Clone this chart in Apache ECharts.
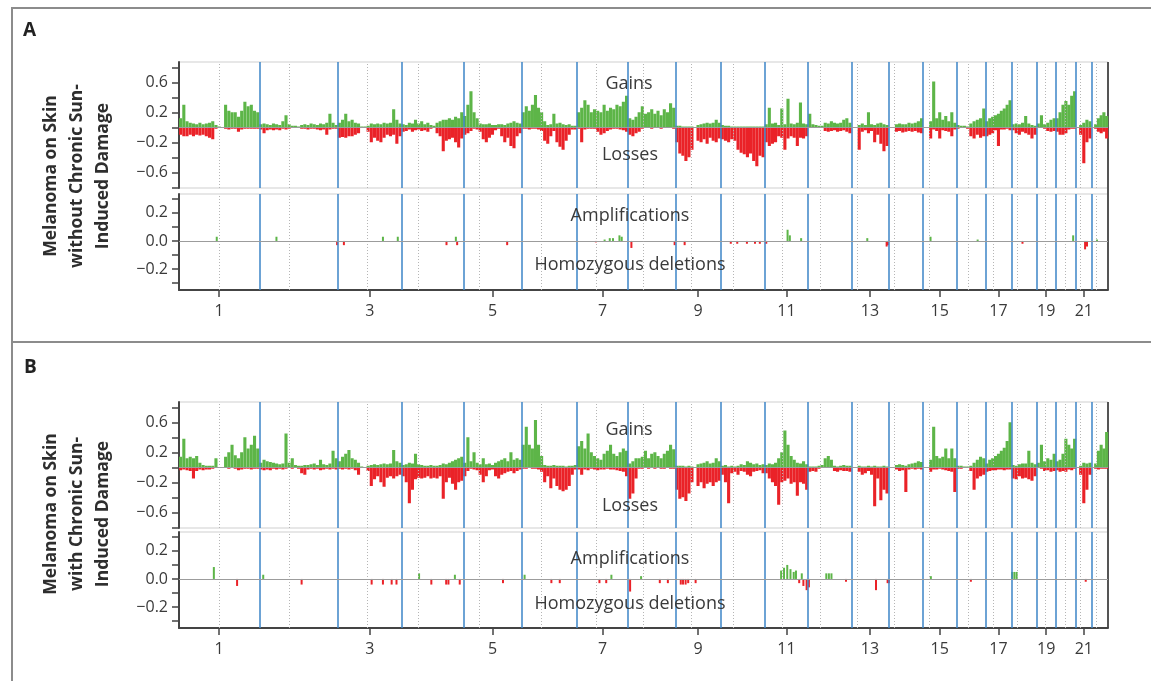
<!DOCTYPE html>
<html>
<head>
<meta charset="utf-8">
<script src="https://cdn.jsdelivr.net/npm/echarts@6/dist/echarts.min.js"></script>
<style>
  html, body { margin: 0; padding: 0; background: #fff; }
  #chart { width: 1151px; height: 681px; }
</style>
</head>
<body>
<div id="chart"></div>
<script>
// chromosome sizes and centromere positions, Mb
const chromLengths = [249, 243, 198, 191, 181, 171, 159, 146, 141, 136, 135, 134, 115, 107, 103, 90, 81, 78, 59, 63, 48, 51]
const centromeres = [125, 93, 91, 50, 48, 61, 60, 46, 49, 40, 54, 36, 18, 18, 19, 37, 24, 17, 27, 28, 13, 15]
const tickChroms = [1, 3, 5, 7, 9, 11, 13, 15, 17, 19, 21]

// panel A: melanoma without chronic sun-induced damage (one list per chromosome)
const gainsA = [
  [0.12, 0.3, 0.08, 0.06, 0.05, 0.04, 0.06, 0.04, 0.05, 0.06, 0.08, 0.03, 0.01, 0, 0.3, 0.22, 0.2, 0.2, 0.14, 0.22, 0.34, 0.28, 0.3, 0.22, 0.2],
  [0.04, 0.05, 0.04, 0.03, 0.05, 0.04, 0.03, 0.08, 0.16, 0.04, 0.02, 0.02, 0.01, 0.03, 0.04, 0.03, 0.05, 0.04, 0.03, 0.05, 0.04, 0.06, 0.18, 0.06, 0.03],
  [0.06, 0.1, 0.18, 0.08, 0.1, 0.06, 0.05, 0.01, 0.01, 0.02, 0.05, 0.04, 0.05, 0.04, 0.06, 0.05, 0.06, 0.24, 0.1, 0.05],
  [0.04, 0.03, 0.06, 0.05, 0.1, 0.05, 0.08, 0.04, 0.06, 0.03, 0.02, 0.06, 0.08, 0.1, 0.1, 0.12, 0.1, 0.14, 0.12, 0.2],
  [0.15, 0.3, 0.48, 0.2, 0.12, 0.05, 0.04, 0.04, 0.05, 0.03, 0.03, 0.04, 0.04, 0.03, 0.05, 0.06, 0.08, 0.06, 0.05],
  [0.2, 0.28, 0.22, 0.3, 0.43, 0.26, 0.2, 0.08, 0.03, 0.04, 0.18, 0.05, 0.06, 0.04, 0.03, 0.04, 0.02, 0.02],
  [0.2, 0.26, 0.36, 0.3, 0.2, 0.24, 0.22, 0.2, 0.3, 0.22, 0.26, 0.24, 0.3, 0.28, 0.34, 0.42],
  [0.12, 0.1, 0.14, 0.2, 0.28, 0.18, 0.2, 0.24, 0.18, 0.22, 0.16, 0.24, 0.2, 0.32, 0.26],
  [0.02, 0.02, 0.01, 0.01, 0.01, 0.01, 0, 0.03, 0.04, 0.05, 0.06, 0.05, 0.06, 0.1, 0.06],
  [0.03, 0.02, 0.02, 0.01, 0.01, 0.01, 0.01, 0.01, 0.01, 0.01, 0.01, 0.01, 0.01, 0.01],
  [0.04, 0.26, 0.05, 0.06, 0.03, 0.25, 0.04, 0.38, 0.05, 0.04, 0.06, 0.33, 0.05, 0.04],
  [0.18, 0.04, 0.03, 0.02, 0.02, 0.06, 0.05, 0.08, 0.06, 0.05, 0.06, 0.1, 0.12, 0.06],
  [0, 0, 0.03, 0.05, 0.03, 0.2, 0.04, 0.03, 0.05, 0.06, 0.04, 0.03],
  [0, 0, 0.04, 0.05, 0.04, 0.04, 0.06, 0.05, 0.06, 0.08, 0.12],
  [0, 0, 0.08, 0.61, 0.12, 0.2, 0.1, 0.15, 0.08, 0.2, 0.06],
  [0.03, 0.02, 0.02, 0.01, 0.05, 0.08, 0.1, 0.12, 0.25],
  [0.08, 0.12, 0.14, 0.16, 0.18, 0.22, 0.25, 0.3, 0.36],
  [0.04, 0.05, 0.04, 0.06, 0.15, 0.05, 0.03, 0.02],
  [0.05, 0.16, 0.04, 0.06, 0.1, 0.12],
  [0.12, 0.2, 0.3, 0.35, 0.3, 0.42, 0.48],
  [0, 0.03, 0.06, 0.1, 0.08],
  [0, 0.04, 0.12, 0.16, 0.2, 0.15]
]
const lossesA = [
  [-0.1, -0.12, -0.12, -0.1, -0.12, -0.1, -0.11, -0.1, -0.12, -0.14, -0.16, -0.02, 0, 0, -0.02, -0.03, -0.02, -0.02, -0.06, -0.03, -0.02, -0.02, -0.02, -0.02, -0.02],
  [-0.03, -0.08, -0.04, -0.03, -0.04, -0.03, -0.04, -0.02, -0.03, -0.02, -0.01, -0.01, 0, -0.02, -0.02, -0.03, -0.02, -0.02, -0.03, -0.04, -0.03, -0.1, -0.03, -0.02, -0.02],
  [-0.14, -0.13, -0.14, -0.12, -0.12, -0.1, -0.08, 0, 0, -0.06, -0.2, -0.14, -0.18, -0.2, -0.14, -0.1, -0.12, -0.1, -0.22, -0.12],
  [-0.06, -0.05, -0.03, -0.06, -0.04, -0.03, -0.05, -0.04, -0.06, -0.02, -0.01, -0.08, -0.12, -0.32, -0.18, -0.16, -0.14, -0.2, -0.27, -0.15],
  [-0.1, -0.08, -0.05, -0.02, -0.03, -0.06, -0.16, -0.2, -0.14, -0.1, -0.04, -0.02, -0.12, -0.2, -0.14, -0.25, -0.28, -0.12, -0.08],
  [-0.02, -0.02, -0.03, -0.02, -0.02, -0.03, -0.05, -0.18, -0.22, -0.12, -0.05, -0.2, -0.26, -0.3, -0.18, -0.1, -0.03, -0.03],
  [-0.02, -0.2, -0.03, -0.02, -0.02, -0.02, -0.06, -0.1, -0.08, -0.05, -0.03, -0.02, -0.02, -0.03, -0.04, -0.06],
  [-0.1, -0.12, -0.08, -0.06, -0.02, -0.01, -0.01, -0.02, -0.01, -0.01, -0.02, -0.01, -0.01, -0.01, -0.02],
  [-0.2, -0.35, -0.38, -0.45, -0.4, -0.3, 0, -0.18, -0.2, -0.16, -0.22, -0.14, -0.18, -0.2, -0.15],
  [-0.16, -0.18, -0.2, -0.16, -0.18, -0.3, -0.34, -0.36, -0.4, -0.35, -0.45, -0.52, -0.38, -0.4],
  [-0.2, -0.25, -0.22, -0.2, -0.12, -0.14, -0.3, -0.15, -0.12, -0.14, -0.25, -0.14, -0.15, -0.12],
  [-0.01, -0.01, 0, 0, -0.01, -0.05, -0.06, -0.05, -0.04, -0.06, -0.05, -0.04, -0.06, -0.08],
  [0, 0, -0.3, -0.06, -0.04, -0.08, -0.05, -0.2, -0.1, -0.22, -0.32, -0.25],
  [0, 0, -0.06, -0.05, -0.07, -0.06, -0.05, -0.06, -0.05, -0.07, -0.08],
  [0, 0, -0.15, -0.03, -0.05, -0.15, -0.04, -0.05, -0.06, -0.12, -0.03],
  [-0.02, -0.01, -0.01, -0.02, -0.12, -0.15, -0.1, -0.14, -0.12],
  [-0.12, -0.1, -0.08, -0.04, -0.25, -0.03, -0.03, -0.02, -0.04],
  [-0.04, -0.08, -0.1, -0.06, -0.08, -0.1, -0.15, -0.1],
  [0, -0.01, -0.02, -0.05, -0.06, -0.05],
  [-0.06, -0.1, -0.1, -0.08, -0.03, -0.02, -0.02],
  [0, -0.1, -0.48, -0.2, -0.15],
  [0, -0.02, -0.06, -0.08, -0.06, -0.15]
]
// [genome position Mb, fraction]
const ampA = [[117, 0.03], [302, 0.03], [632, 0.03], [678, 0.03], [858, 0.03], [1319, 0.01], [1335, 0.02], [1345, 0.02], [1365, 0.04], [1372, 0.03], [1886, 0.08], [1893, 0.04], [1928, 0.02], [2133, 0.02], [2329, 0.03], [2475, 0.01], [2771, 0.04], [2845, 0.01]]
const delA = [[490, -0.03], [511, -0.03], [829, -0.03], [862, -0.03], [1017, -0.03], [1292, -0.01], [1402, -0.05], [1536, -0.03], [1567, -0.03], [1710, -0.02], [1730, -0.02], [1760, -0.02], [1785, -0.02], [1800, -0.02], [1820, -0.02], [2193, -0.04], [2197, -0.03], [2614, -0.02], [2808, -0.06], [2814, -0.04]]

// panel B: melanoma with chronic sun-induced damage
const gainsB = [
  [0.14, 0.38, 0.12, 0.14, 0.12, 0.15, 0.06, 0.03, 0.02, 0.02, 0.02, 0.12, 0, 0, 0.14, 0.2, 0.3, 0.16, 0.12, 0.2, 0.4, 0.25, 0.3, 0.42, 0.25],
  [0.06, 0.1, 0.08, 0.07, 0.06, 0.05, 0.04, 0.05, 0.45, 0.06, 0.12, 0.03, 0.02, 0.02, 0.03, 0.03, 0.04, 0.05, 0.03, 0.1, 0.04, 0.03, 0.05, 0.22, 0.12],
  [0.08, 0.14, 0.18, 0.23, 0.12, 0.1, 0.06, 0.01, 0, 0.02, 0.03, 0.04, 0.03, 0.04, 0.05, 0.04, 0.05, 0.23, 0.08, 0.06],
  [0.03, 0.04, 0.06, 0.05, 0.18, 0.04, 0.03, 0.02, 0.02, 0.03, 0.02, 0.02, 0.03, 0.05, 0.04, 0.06, 0.08, 0.1, 0.12, 0.14],
  [0.06, 0.4, 0.08, 0.2, 0.06, 0.04, 0.12, 0.04, 0.05, 0.03, 0.06, 0.08, 0.1, 0.12, 0.08, 0.2, 0.1, 0.12, 0.1],
  [0.3, 0.54, 0.3, 0.25, 0.63, 0.3, 0.15, 0.03, 0.02, 0.02, 0.03, 0.02, 0.02, 0.02, 0.01, 0.02, 0.02, 0.03],
  [0.28, 0.35, 0.25, 0.45, 0.2, 0.15, 0.12, 0.1, 0.18, 0.22, 0.3, 0.18, 0.15, 0.2, 0.25, 0.22],
  [0.05, 0.08, 0.12, 0.12, 0.14, 0.22, 0.12, 0.18, 0.2, 0.15, 0.12, 0.18, 0.22, 0.3, 0.24],
  [0.02, 0.02, 0.02, 0.01, 0.02, 0.01, 0, 0.04, 0.05, 0.06, 0.08, 0.05, 0.06, 0.12, 0.08],
  [0.02, 0.03, 0.01, 0.02, 0.01, 0.02, 0.04, 0.03, 0.08, 0.06, 0.04, 0.05, 0.03, 0.04],
  [0.03, 0.05, 0.04, 0.06, 0.12, 0.2, 0.49, 0.3, 0.15, 0.1, 0.06, 0.05, 0.08, 0.04],
  [0.01, 0.01, 0.01, 0.02, 0.03, 0.12, 0.15, 0.1, 0.02, 0.01, 0.02, 0.03, 0.02, 0.02],
  [0, 0, 0.02, 0.01, 0.01, 0.02, 0.01, 0.02, 0.01, 0.01, 0.02, 0.01],
  [0, 0, 0.03, 0.04, 0.03, 0.02, 0.04, 0.05, 0.06, 0.08, 0.07],
  [0, 0, 0.1, 0.54, 0.15, 0.12, 0.14, 0.25, 0.12, 0.25, 0.12],
  [0.02, 0.02, 0.01, 0.01, 0.02, 0.06, 0.1, 0.14, 0.12],
  [0.05, 0.1, 0.12, 0.15, 0.18, 0.22, 0.26, 0.35, 0.6],
  [0.03, 0.02, 0.04, 0.05, 0.05, 0.22, 0.06, 0.04],
  [0.06, 0.3, 0.08, 0.12, 0.1, 0.18],
  [0.08, 0.1, 0.18, 0.38, 0.3, 0.25, 0.38],
  [0, 0.02, 0.06, 0.05, 0.06],
  [0, 0.05, 0.22, 0.3, 0.25, 0.47]
]
const lossesB = [
  [-0.04, -0.03, -0.04, -0.05, -0.15, -0.05, -0.03, -0.04, -0.03, -0.03, -0.02, -0.01, 0, 0, -0.01, -0.02, -0.01, -0.02, -0.04, -0.03, -0.02, -0.02, -0.03, -0.02, -0.02],
  [-0.03, -0.04, -0.03, -0.04, -0.02, -0.03, -0.02, -0.03, -0.02, -0.01, -0.02, -0.01, -0.02, -0.08, -0.1, -0.03, -0.02, -0.03, -0.02, -0.04, -0.03, -0.02, -0.03, -0.02, -0.03],
  [-0.02, -0.03, -0.02, -0.03, -0.02, -0.04, -0.1, 0, 0, -0.05, -0.25, -0.16, -0.12, -0.2, -0.26, -0.14, -0.12, -0.15, -0.12, -0.1],
  [-0.12, -0.2, -0.48, -0.3, -0.16, -0.14, -0.15, -0.14, -0.12, -0.15, -0.14, -0.15, -0.12, -0.42, -0.2, -0.14, -0.22, -0.3, -0.2, -0.18],
  [-0.12, -0.05, -0.02, -0.03, -0.04, -0.1, -0.2, -0.12, -0.04, -0.03, -0.12, -0.15, -0.1, -0.08, -0.06, -0.05, -0.08, -0.05, -0.03],
  [-0.02, -0.02, -0.01, -0.02, -0.02, -0.03, -0.06, -0.2, -0.12, -0.28, -0.15, -0.25, -0.3, -0.32, -0.3, -0.25, -0.1, -0.03],
  [-0.03, -0.1, -0.03, -0.04, -0.02, -0.03, -0.04, -0.03, -0.03, -0.02, -0.03, -0.03, -0.04, -0.05, -0.06, -0.12],
  [-0.42, -0.35, -0.15, -0.02, -0.02, -0.01, -0.02, -0.01, -0.02, -0.01, -0.02, -0.02, -0.01, -0.02, -0.02],
  [-0.3, -0.42, -0.4, -0.45, -0.35, -0.2, 0, -0.25, -0.2, -0.28, -0.22, -0.2, -0.25, -0.2, -0.18],
  [-0.1, -0.2, -0.48, -0.08, -0.06, -0.1, -0.05, -0.06, -0.1, -0.12, -0.06, -0.05, -0.04, -0.08],
  [-0.08, -0.15, -0.2, -0.25, -0.5, -0.2, -0.18, -0.15, -0.22, -0.2, -0.38, -0.2, -0.22, -0.3],
  [-0.06, -0.05, -0.06, -0.02, -0.01, -0.01, -0.01, -0.01, -0.05, -0.06, -0.04, -0.05, -0.05, -0.06],
  [0, 0, -0.06, -0.1, -0.08, -0.05, -0.1, -0.52, -0.15, -0.44, -0.3, -0.35],
  [0, 0, -0.03, -0.05, -0.04, -0.33, -0.03, -0.02, -0.03, -0.02, -0.03],
  [0, 0, -0.06, -0.03, -0.03, -0.02, -0.03, -0.04, -0.05, -0.06, -0.33],
  [-0.02, -0.02, -0.01, -0.01, -0.05, -0.3, -0.15, -0.12, -0.1],
  [-0.06, -0.05, -0.04, -0.04, -0.03, -0.03, -0.04, -0.03, -0.03],
  [-0.15, -0.16, -0.12, -0.15, -0.14, -0.16, -0.18, -0.12],
  [0, -0.02, -0.05, -0.04, -0.06, -0.05],
  [-0.04, -0.06, -0.05, -0.06, -0.03, -0.04, -0.02],
  [0, -0.1, -0.48, -0.3, -0.1],
  [0, -0.02, -0.03, -0.02, -0.02, -0.02]
]
const ampB = [[108, 0.085], [261, 0.03], [744, 0.04], [855, 0.03], [1071, 0.03], [1340, 0.03], [1432, 0.02], [1866, 0.06], [1875, 0.08], [1885, 0.1], [1895, 0.07], [1905, 0.05], [1912, 0.06], [1930, 0.04], [2006, 0.04], [2014, 0.04], [2022, 0.04], [2330, 0.02], [2582, 0.05], [2589, 0.05], [2596, 0.05]]
const delB = [[180, -0.05], [380, -0.04], [597, -0.04], [632, -0.04], [659, -0.04], [674, -0.04], [782, -0.04], [828, -0.04], [835, -0.04], [870, -0.04], [1004, -0.03], [1154, -0.03], [1180, -0.03], [1303, -0.03], [1324, -0.03], [1398, -0.09], [1490, -0.03], [1515, -0.03], [1555, -0.04], [1562, -0.04], [1570, -0.04], [1578, -0.03], [1601, -0.03], [1922, -0.03], [1935, -0.05], [1945, -0.08], [1952, -0.06], [2067, -0.02], [2160, -0.08], [2196, -0.03], [2200, -0.03], [2454, -0.02], [2810, -0.02]]

const GREEN = '#5db548'
const RED = '#ea2228'
const BLUE = '#3f86c8'
const TEXT = '#3a3a3a'
const FONT = '"Open Sans", "DejaVu Sans", sans-serif'

const chromStarts = []
let genomeLength = 0
chromLengths.forEach(l => { chromStarts.push(genomeLength); genomeLength += l })
const tickMids = tickChroms.map(c => chromStarts[c - 1] + chromLengths[c - 1] / 2)

function toBars(perChrom) {
  const out = []
  perChrom.forEach((vals, c) => {
    const w = chromLengths[c] / vals.length
    vals.forEach((v, i) => out.push([chromStarts[c] + (i + 0.5) * w, v]))
  })
  return out
}

function fmtY(v) {
  const a = Math.abs(v).toFixed(1)
  return v < -1e-9 ? '\u2212' + a : a
}

// 4 grids: A top, A bottom, B top, B bottom
const grids = [
  { left: 179, right: 43, top: 62, height: 126 },
  { left: 179, right: 43, top: 194, height: 96 },
  { left: 179, right: 43, top: 402, height: 126 },
  { left: 179, right: 43, top: 532, height: 96 }
].map(g => Object.assign({ show: true, borderColor: '#cfcfcf', borderWidth: 1, backgroundColor: 'transparent' }, g))

const xAxes = grids.map((g, i) => {
  const bottom = i % 2 === 1
  return {
    type: 'value', gridIndex: i, min: 0, max: genomeLength,
    axisLine: { show: bottom, onZero: false, lineStyle: { color: '#444', width: 2 } },
    axisTick: { show: bottom, customValues: tickMids, length: 7, lineStyle: { color: '#444', width: 1.5 } },
    axisLabel: {
      show: bottom, customValues: tickMids, margin: 13, fontSize: 16, color: TEXT, fontFamily: FONT,
      formatter: v => String(tickChroms[tickMids.findIndex(m => Math.abs(m - v) < 0.5)])
    },
    splitLine: { show: false }
  }
})

const topTicks = [-0.8, -0.6, -0.4, -0.2, 0, 0.2, 0.4, 0.6, 0.8]
const topLabels = [-0.6, -0.2, 0.2, 0.6]
const botTicks = [-0.3, -0.2, -0.1, 0, 0.1, 0.2, 0.3]
const botLabels = [-0.2, 0, 0.2]

const yAxes = grids.map((g, i) => {
  const bottom = i % 2 === 1
  return {
    type: 'value', gridIndex: i,
    min: bottom ? -0.35 : -0.81, max: bottom ? 0.335 : 0.87,
    axisLine: { show: true, onZero: false, lineStyle: { color: '#444', width: 2 } },
    axisTick: { show: true, customValues: bottom ? botTicks : topTicks, length: 7, lineStyle: { color: '#444', width: 1.5 } },
    axisLabel: { customValues: bottom ? botLabels : topLabels, formatter: fmtY, margin: 11, fontSize: 16, color: TEXT, fontFamily: FONT },
    splitLine: { show: false }
  }
})

function barSeries(data, idx, color, width) {
  return {
    type: 'bar', xAxisIndex: idx, yAxisIndex: idx, data: data,
    barWidth: width, barGap: '-100%', itemStyle: { color: color },
    silent: true, animation: false, z: 2
  }
}

const boundaries = chromStarts.slice(1)
const cenPositions = centromeres.map((c, i) => chromStarts[i] + c)

function guideSeries(idx) {
  return [
    {
      type: 'scatter', xAxisIndex: idx, yAxisIndex: idx, data: [[0, 0]], symbolSize: 0,
      silent: true, animation: false, z: 1,
      markLine: {
        silent: true, symbol: ['none', 'none'], label: { show: false }, animation: false,
        lineStyle: { color: '#b5b5b5', width: 1, type: [1, 2] },
        data: cenPositions.map(v => ({ xAxis: v }))
      }
    },
    {
      type: 'scatter', xAxisIndex: idx, yAxisIndex: idx, data: [[0, 0]], symbolSize: 0,
      silent: true, animation: false, z: 5,
      markLine: {
        silent: true, symbol: ['none', 'none'], label: { show: false }, animation: false,
        data: boundaries.map(v => ({ xAxis: v, lineStyle: { color: BLUE, width: 1.7, type: 'solid', opacity: 0.9 } }))
          .concat([{ yAxis: 0, lineStyle: { color: '#9c9c9c', width: 1, type: 'solid' } }])
      }
    }
  ]
}

const series = [
  barSeries(toBars(gainsA), 0, GREEN, 3.1),
  barSeries(toBars(lossesA), 0, RED, 3.1),
  barSeries(ampA, 1, GREEN, 2),
  barSeries(delA, 1, RED, 2),
  barSeries(toBars(gainsB), 2, GREEN, 3.1),
  barSeries(toBars(lossesB), 2, RED, 3.1),
  barSeries(ampB, 3, GREEN, 2),
  barSeries(delB, 3, RED, 2)
].concat(guideSeries(0), guideSeries(1), guideSeries(2), guideSeries(3))

function label(text, x, y) {
  return { type: 'text', x: x, y: y, z: 10, silent: true,
    style: { text: text, fill: TEXT, font: '18px ' + FONT, align: 'center', verticalAlign: 'middle' } }
}

const graphic = [
  { type: 'rect', shape: { x: 12, y: 8, width: 1160, height: 334 }, style: { fill: 'none', stroke: '#8c8c8c', lineWidth: 2 }, silent: true },
  { type: 'rect', shape: { x: 12, y: 342, width: 1160, height: 345 }, style: { fill: 'none', stroke: '#8c8c8c', lineWidth: 2 }, silent: true },
  { type: 'text', x: 23, y: 31, style: { text: 'A', fill: '#222', font: 'bold 19px ' + FONT, verticalAlign: 'middle' } },
  { type: 'text', x: 24, y: 368, style: { text: 'B', fill: '#222', font: 'bold 19px ' + FONT, verticalAlign: 'middle' } },
  { type: 'text', x: 77, y: 176, rotation: Math.PI / 2,
    style: { text: 'Melanoma on Skin\nwithout Chronic Sun-\nInduced Damage', fill: '#2e2e2e', font: 'bold 17.5px ' + FONT, lineHeight: 26, align: 'center', verticalAlign: 'middle' } },
  { type: 'text', x: 77, y: 514, rotation: Math.PI / 2,
    style: { text: 'Melanoma on Skin\nwith Chronic Sun-\nInduced Damage', fill: '#2e2e2e', font: 'bold 17.5px ' + FONT, lineHeight: 26, align: 'center', verticalAlign: 'middle' } },
  { type: 'line', shape: { x1: 1108, y1: 62, x2: 1108, y2: 290 }, style: { stroke: '#555', lineWidth: 2 }, silent: true },
  { type: 'line', shape: { x1: 1108, y1: 402, x2: 1108, y2: 628 }, style: { stroke: '#555', lineWidth: 2 }, silent: true },
  label('Gains', 629, 84), label('Losses', 630, 155),
  label('Amplifications', 630, 216), label('Homozygous deletions', 630, 265),
  label('Gains', 629, 430), label('Losses', 630, 506),
  label('Amplifications', 630, 559), label('Homozygous deletions', 630, 604)
]

const chart = echarts.init(document.getElementById('chart'))
chart.setOption({
  animation: false,
  grid: grids,
  xAxis: xAxes,
  yAxis: yAxes,
  series: series,
  graphic: graphic
})
</script>
</body>
</html>
